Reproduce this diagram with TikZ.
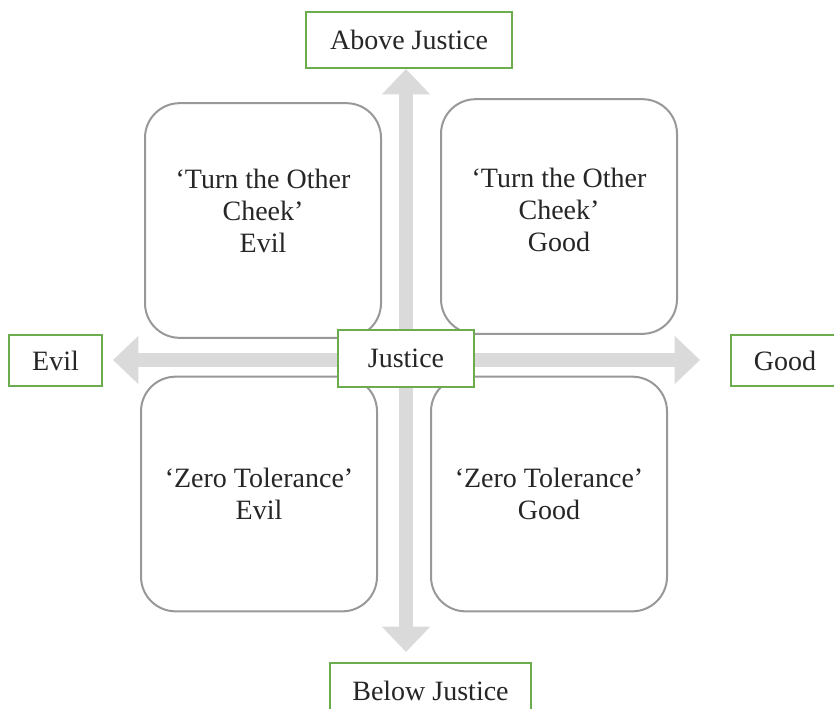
\documentclass[tikz,border=0pt]{standalone}
\usepackage{fontspec}
\setmainfont{Liberation Serif}
\usepackage{tikz}
\usetikzlibrary{arrows.meta,positioning,backgrounds,calc}
\definecolor{labelGreen}{RGB}{106,172,78}
\definecolor{quadGray}{RGB}{152,152,152}
\definecolor{arrowGray}{RGB}{217,218,217}
\definecolor{textDark}{RGB}{38,38,38}
\tikzset{
  greenbox/.style={
    rectangle, draw=labelGreen, line width=1.5pt, fill=white,
    text=textDark, inner sep=0pt
  },
  quadbox/.style={
    rectangle, rounded corners=26pt, draw=quadGray, line width=1.5pt,
    fill=white, text=textDark, align=center, inner sep=0pt,
    minimum width=177pt, minimum height=176pt
  },
  crossArrow/.style={-{Triangle[width=35pt,length=19pt]}, line width=10.5pt, draw=arrowGray}
}
\begin{document}
\begin{tikzpicture}[x=0.75pt, y=-0.75pt, font=\fontsize{21}{24}\selectfont]
  \useasboundingbox (0,0) rectangle (834,708);
  % quadrants (trailing empty line lifts the text a little)
  \node[quadbox] (otherEvil) at (263,220.5) {‘Turn the Other\\Cheek’\\Evil\\[-9pt]\mbox{}};
  \node[quadbox] (otherGood) at (559,216.5) {‘Turn the Other\\Cheek’\\Good\\[-14pt]\mbox{}};
  \node[quadbox] (zeroEvil)  at (259,494)   {‘Zero Tolerance’\\Evil};
  \node[quadbox] (zeroGood)  at (549,494)   {‘Zero Tolerance’\\Good};
  % axis labels
  \node[greenbox, minimum width=154.5pt, minimum height=42pt] (above) at (409,40) {Above Justice};
  \node[greenbox, minimum width=150.75pt, minimum height=42pt] (below) at (430.5,691) {Below Justice};
  \node[greenbox, minimum width=69.75pt, minimum height=38.25pt] (evil) at (55.5,360.5) {Evil};
  \node[greenbox, minimum width=81pt, minimum height=38.25pt] (good) at (785,360.5) {Good};
  \node[greenbox, minimum width=102pt, minimum height=42.75pt] (justice) at (406,358.5) {Justice};
  \coordinate (centre) at (406,360);
  \begin{scope}[on background layer]
    \draw[crossArrow] (centre) -- (centre |- above.south);
    \draw[crossArrow, shorten >=7.5pt] (centre) -- (centre |- below.north);
    \draw[crossArrow, shorten >=7.5pt] (centre) -- (centre -| evil.east);
    \draw[crossArrow, shorten >=22.5pt] (centre) -- (centre -| good.west);
  \end{scope}
\end{tikzpicture}
\end{document}
